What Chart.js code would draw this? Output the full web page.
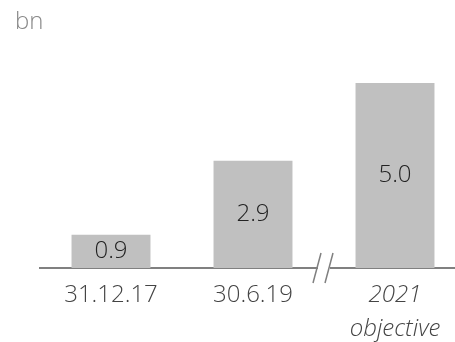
<!DOCTYPE html>
<html>
<head>
<meta charset="utf-8">
<script src="https://cdn.jsdelivr.net/npm/chart.js@4"></script>
<style>
  html, body { margin: 0; padding: 0; background: #fff; }
  #wrap { width: 455px; height: 342px; overflow: hidden; }
</style>
</head>
<body>
<div id="wrap"><canvas id="bars" width="470" height="342"></canvas></div>
<script>
// categories and values (bn)
const categories = ['31.12.17', '30.6.19', ['2021', 'objective']];
const values = [0.9, 2.9, 5.0];
const valueLabels = ['0.9', '2.9', '5.0'];
const unitLabel = 'bn';

const FONT = "'Open Sans', sans-serif";

// value text centred inside each bar, plus the unit in the corner
const barText = {
  id: 'barText',
  afterDatasetsDraw(chart) {
    const ctx = chart.ctx;
    const meta = chart.getDatasetMeta(0);
    ctx.save();
    ctx.font = '300 24px ' + FONT;
    ctx.fillStyle = '#222';
    ctx.textAlign = 'center';
    ctx.textBaseline = 'middle';
    meta.data.forEach((bar, i) => {
      ctx.fillText(valueLabels[i], bar.x, (bar.y + bar.base) / 2);
    });
    ctx.fillStyle = '#888';
    ctx.textAlign = 'left';
    ctx.textBaseline = 'alphabetic';
    ctx.fillText(unitLabel, 15, 29);
    ctx.restore();
  }
};

// "//" break in the axis between the actuals and the objective
const axisBreak = {
  id: 'axisBreak',
  afterDraw(chart) {
    const x = chart.scales.x;
    const ctx = chart.ctx;
    const cx = (x.getPixelForValue(1) + x.getPixelForValue(2)) / 2;
    const y = chart.chartArea.bottom;
    ctx.save();
    ctx.fillStyle = '#fff';
    ctx.fillRect(cx - 6, y - 3, 12, 6);
    ctx.strokeStyle = '#808080';
    ctx.lineWidth = 1.5;
    [-7, 5].forEach(dx => {
      ctx.beginPath();
      ctx.moveTo(cx + dx - 4, y + 15);
      ctx.lineTo(cx + dx + 4, y - 15);
      ctx.stroke();
    });
    ctx.restore();
  }
};

new Chart(document.getElementById('bars'), {
  type: 'bar',
  data: {
    labels: categories,
    datasets: [{
      data: values,
      backgroundColor: '#c0c0c0',
      borderWidth: 0,
      barPercentage: 0.556,
      categoryPercentage: 1
    }]
  },
  options: {
    responsive: false,
    animation: false,
    layout: { padding: { left: 40, right: 4, top: 46, bottom: 0 } },
    plugins: {
      legend: { display: false },
      tooltip: { enabled: false }
    },
    scales: {
      y: {
        display: false,
        min: 0,
        max: 6
      },
      x: {
        grid: { display: false, drawTicks: false },
        border: { color: '#808080', width: 2 },
        afterFit: (scale) => { scale.height = 74; },
        ticks: {
          color: '#444',
          padding: 11,
          font: (ctx) => ({
            family: FONT,
            size: 24,
            weight: 300,
            style: ctx.index === 2 ? 'italic' : 'normal',
            lineHeight: 1.38
          })
        }
      }
    }
  },
  plugins: [barText, axisBreak]
});
</script>
</body>
</html>
